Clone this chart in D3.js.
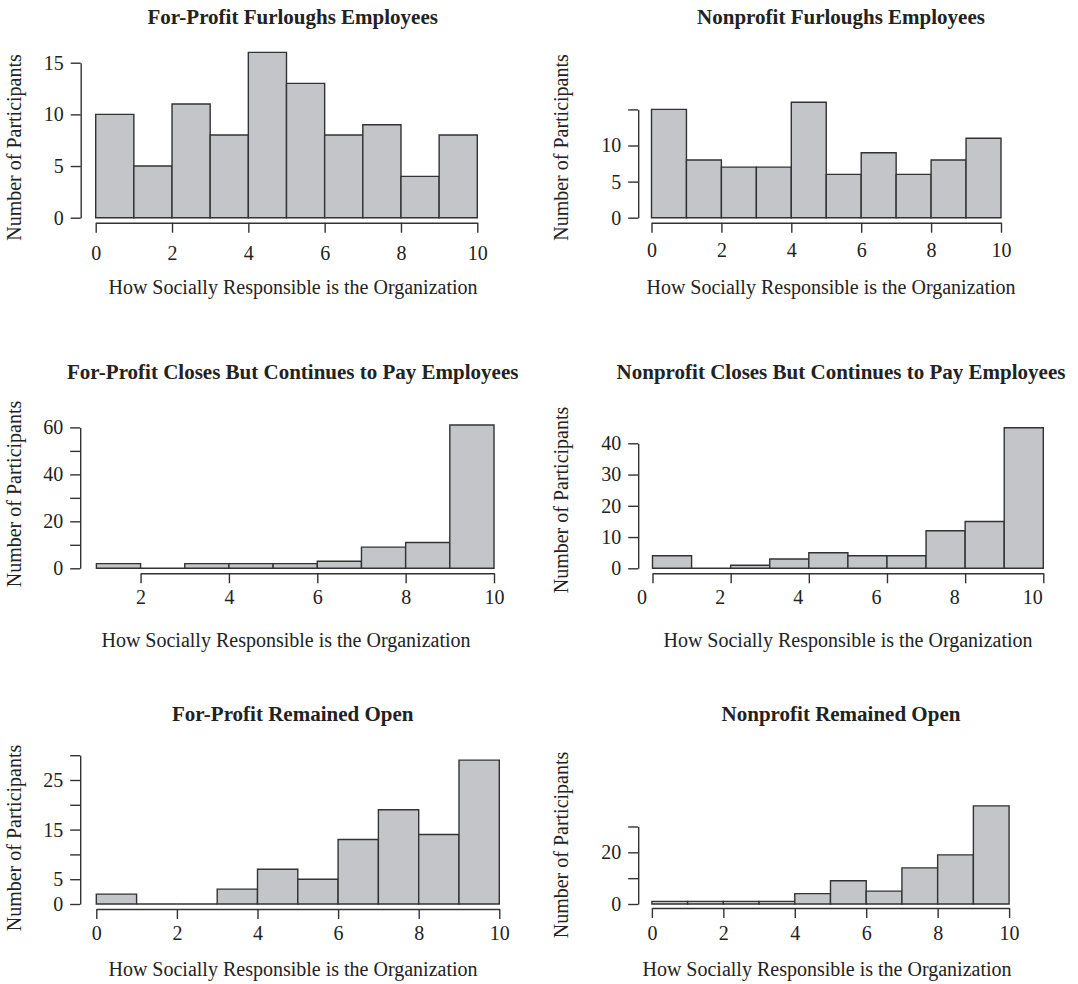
<!DOCTYPE html>
<html>
<head>
<meta charset="utf-8">
<script src="https://cdn.jsdelivr.net/npm/d3@7"></script>
<style>
  html, body { margin: 0; padding: 0; background: #fff; }
  svg text { font-family: "Liberation Serif", "Times New Roman", serif; fill: #222; }
</style>
</head>
<body>
<svg id="chart" width="1078" height="984"></svg>
<script>
// ---- data ----
const xAxisTitle = "How Socially Responsible is the Organization";
const yAxisTitle = "Number of Participants";
const panelTitles = [
  "For-Profit Furloughs Employees",
  "Nonprofit Furloughs Employees",
  "For-Profit Closes But Continues to Pay Employees",
  "Nonprofit Closes But Continues to Pay Employees",
  "For-Profit Remained Open",
  "Nonprofit Remained Open"
];
const binStarts = [0, 0, 1, 0, 0, 0];
const forProfitFurloughs = [10, 5, 11, 8, 16, 13, 8, 9, 4, 8];
const nonprofitFurloughs = [15, 8, 7, 7, 16, 6, 9, 6, 8, 11];
const forProfitCloses = [2, 0, 2, 2, 2, 3, 9, 11, 61];
const nonprofitCloses = [4, 0, 1, 3, 5, 4, 4, 12, 15, 45];
const forProfitOpen = [2, 0, 0, 3, 7, 5, 13, 19, 14, 29];
const nonprofitOpen = [1, 1, 1, 1, 4, 9, 5, 14, 19, 38];
const seriesList = [forProfitFurloughs, nonprofitFurloughs, forProfitCloses, nonprofitCloses, forProfitOpen, nonprofitOpen];

const yTicksList = [
  [0, 5, 10, 15], [0, 5, 10, 15], [0, 10, 20, 30, 40, 50, 60],
  [0, 10, 20, 30, 40], [0, 5, 10, 15, 20, 25, 30], [0, 10, 20, 30]
];
const yTickLabelsList = [
  [0, 5, 10, 15], [0, 5, 10], [0, 20, 40, 60],
  [0, 10, 20, 30, 40], [0, 5, 15, 25], [0, 20]
];
const xTicksList = [
  [0, 2, 4, 6, 8, 10], [0, 2, 4, 6, 8, 10], [2, 4, 6, 8, 10],
  [0, 2, 4, 6, 8, 10], [0, 2, 4, 6, 8, 10], [0, 2, 4, 6, 8, 10]
];

// ---- layout (pixel geometry per panel) ----
const layout = [
  { x0: 95.7, x1: 477.3, yAxisX: 80.7, yBase: 217.7, yTop: 62.7, xAxisY: 222.7, xPad: 13, xLabDx: 0,
    titleX: 292.7, titleY: 24, xTitleX: 293, xTitleY: 294, yTitleX: 21, yTitleY: 147.5 },
  { x0: 651.5, x1: 1001, yAxisX: 638.2, yBase: 217.7, yTop: 109.4, xAxisY: 222.7, xPad: 10, xLabDx: 0,
    titleX: 841, titleY: 24, xTitleX: 831, xTitleY: 294, yTitleX: 568, yTitleY: 147.5 },
  { x0: 96.4, x1: 494, yAxisX: 80.2, yBase: 568.3, yTop: 427.4, xAxisY: 573.3, xPad: 6.5, xLabDx: 0,
    titleX: 292.7, titleY: 379.3, xTitleX: 286, xTitleY: 646.7, yTitleX: 21, yTitleY: 494 },
  { x0: 652.5, x1: 1043.3, yAxisX: 638.2, yBase: 568.3, yTop: 443.3, xAxisY: 573.3, xPad: 6.5, xLabDx: -11,
    titleX: 841, titleY: 379.3, xTitleX: 848, xTitleY: 646.7, yTitleX: 568, yTitleY: 500 },
  { x0: 96.3, x1: 499.3, yAxisX: 80.2, yBase: 904, yTop: 755.2, xAxisY: 909, xPad: 7, xLabDx: 0,
    titleX: 292.7, titleY: 721, xTitleX: 293, xTitleY: 976, yTitleX: 21, yTitleY: 838 },
  { x0: 651.9, x1: 1009.1, yAxisX: 638.2, yBase: 904, yTop: 826.5, xAxisY: 908, xPad: 8, xLabDx: 0,
    titleX: 841, titleY: 721, xTitleX: 827, xTitleY: 976, yTitleX: 568, yTitleY: 845 }
];

const svg = d3.select("#chart");
const FS = 20;
const TFS = 21;
const ink = "#333";

seriesList.forEach((counts, i) => {
  const L = layout[i];
  const start = binStarts[i];
  const end = start + counts.length;
  const yTicks = yTicksList[i];
  const x = d3.scaleLinear().domain([start, end]).range([L.x0, L.x1]);
  const y = d3.scaleLinear().domain([0, d3.max(yTicks)]).range([L.yBase, L.yTop]);
  const g = svg.append("g");

  // bars
  g.selectAll("path.bar").data(counts).join("path")
    .attr("class", "bar")
    .attr("d", (d, k) => {
      const a = x(start + k), b = x(start + k + 1);
      return `M${a},${y(0)}V${y(d)}H${b}V${y(0)}Z`;
    })
    .attr("fill", "#c4c5c9")
    .attr("stroke", ink)
    .attr("stroke-width", 1.4);

  // x axis
  const xt = xTicksList[i];
  const xa = x.copy().domain([d3.min(xt), d3.max(xt)]).range([x(d3.min(xt)), x(d3.max(xt))]);
  const gx = g.append("g").attr("transform", `translate(0,${L.xAxisY})`)
    .call(d3.axisBottom(xa).tickValues(xt).tickSize(10).tickSizeOuter(0).tickPadding(L.xPad).tickFormat(d3.format("d")));
  gx.select(".domain").attr("stroke", ink).attr("stroke-width", 1.4);
  gx.selectAll(".tick line").attr("stroke", ink).attr("stroke-width", 1.4);
  gx.selectAll(".tick text").attr("font-size", FS).attr("fill", "#222").attr("dx", L.xLabDx)
    .attr("font-family", "Liberation Serif, Times New Roman, serif");

  // y axis
  const labs = yTickLabelsList[i];
  const gy = g.append("g").attr("transform", `translate(${L.yAxisX},0)`)
    .call(d3.axisLeft(y).tickValues(yTicks).tickSize(10).tickSizeOuter(0).tickPadding(7)
      .tickFormat(d => labs.includes(d) ? String(d) : ""));
  gy.select(".domain").attr("stroke", ink).attr("stroke-width", 1.4);
  gy.selectAll(".tick line").attr("stroke", ink).attr("stroke-width", 1.4);
  gy.selectAll(".tick text").attr("font-size", FS).attr("fill", "#222")
    .attr("font-family", "Liberation Serif, Times New Roman, serif");

  // titles
  g.append("text").attr("x", L.titleX).attr("y", L.titleY).attr("text-anchor", "middle")
    .attr("font-size", TFS).attr("font-weight", "bold").text(panelTitles[i]);
  g.append("text").attr("x", L.xTitleX).attr("y", L.xTitleY).attr("text-anchor", "middle")
    .attr("font-size", FS).text(xAxisTitle);
  g.append("text").attr("transform", `translate(${L.yTitleX},${L.yTitleY}) rotate(-90)`)
    .attr("text-anchor", "middle").attr("font-size", FS).text(yAxisTitle);
});
</script>
</body>
</html>
